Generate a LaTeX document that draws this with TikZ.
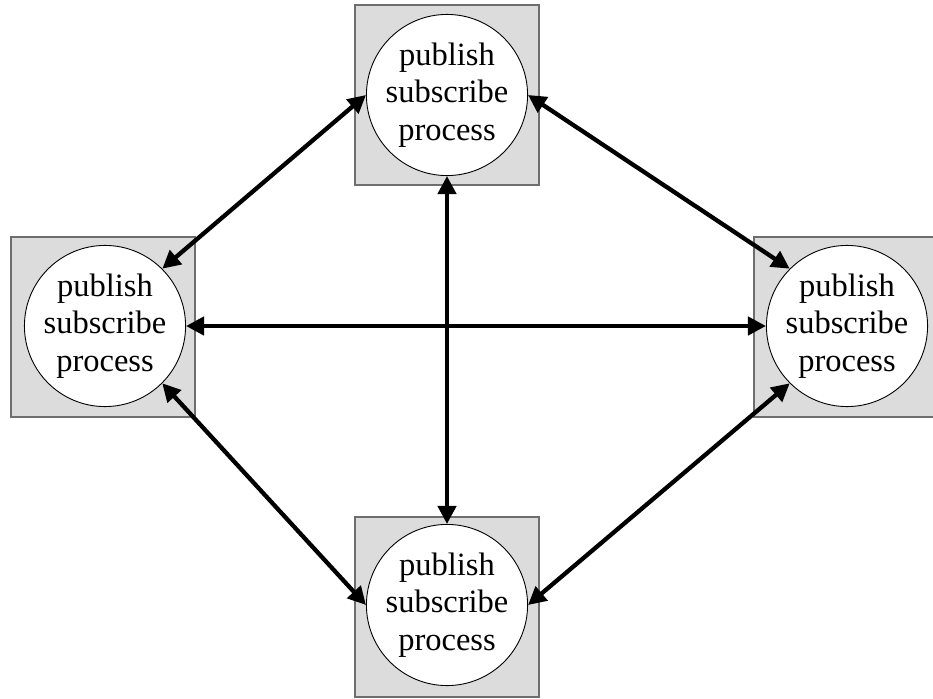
\documentclass[tikz,border=0pt]{standalone}
\usepackage{fontspec}
\setmainfont{Liberation Serif}
\usetikzlibrary{arrows.meta}

\definecolor{boxfill}{HTML}{DCDCDC}
\definecolor{boxline}{HTML}{6E6E6E}

\tikzset{
  hostbox/.style={draw=boxline, line width=1.2pt, fill=boxfill,
    minimum width=184pt, minimum height=180pt, inner sep=0pt},
  proc/.style={draw=black, line width=0.9pt, fill=white, circle,
    minimum size=152pt, inner sep=0pt, align=center,
    font=\fontsize{32.5}{37.5}\selectfont},
  link/.style={line width=4.3pt, {Triangle[length=18pt,width=18pt]}-{Triangle[length=18pt,width=18pt]}}
}

\begin{document}
\begin{tikzpicture}[x=1pt,y=-1pt]
  \clip (0,0) rectangle (933,698);
  \useasboundingbox (0,0) rectangle (933,698);

  % host boxes
  \node[hostbox] (topbox)    at (447,95)  {};
  \node[hostbox] (leftbox)   at (103,327) {};
  \node[hostbox] (rightbox)  at (846,327) {};
  \node[hostbox] (bottombox) at (447,607) {};

  % processes
  \node[proc] (top)    at (447,95)  {publish\\subscribe\\process};
  \node[proc] (left)   at (105,326) {publish\\subscribe\\process};
  \node[proc] (right)  at (847,326) {publish\\subscribe\\process};
  \node[proc] (bottom) at (447,605) {publish\\subscribe\\process};

  % two-way links
  \draw[link] (top.west) -- (left.45);
  \draw[link] (top.east) -- (right.135);
  \draw[link] (left.-45) -- (bottom.west);
  \draw[link] (right.-135) -- (bottom.east);
  \draw[link] (left.east) -- (right.west);
  \draw[link] (top.south) -- (bottom.north);
\end{tikzpicture}
\end{document}
